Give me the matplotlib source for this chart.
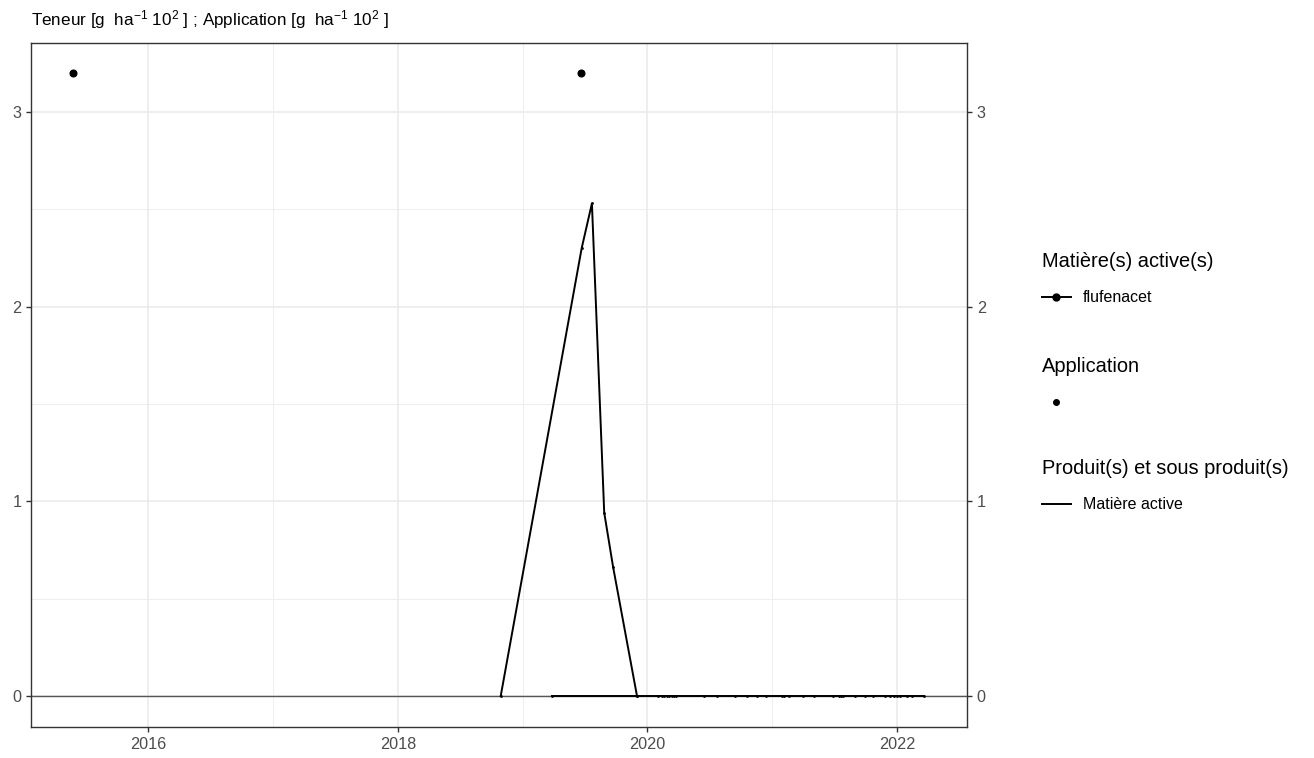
#!/usr/bin/env python3

# Import special modules ...
import datetime
import matplotlib
matplotlib.use("Agg")
import matplotlib.dates
import matplotlib.lines
import matplotlib.pyplot
import matplotlib.ticker

matplotlib.pyplot.rcParams["font.family"] = ["Liberation Sans", "DejaVu Sans"]
matplotlib.pyplot.rcParams["mathtext.fontset"] = "custom"
matplotlib.pyplot.rcParams["mathtext.rm"] = "Liberation Sans"
matplotlib.pyplot.rcParams["mathtext.it"] = "Liberation Sans:italic"

appDates = ["2015-05-26", "2019-06-21"]
appValues = [3.2, 3.2]

productDates = ["2018-10-29", "2019-06-23", "2019-07-23", "2019-08-28", "2019-09-23", "2019-12-02"]
productValues = [0.0, 2.30, 2.53, 0.942, 0.663, 0.0]

flufenacetDates = [
    "2019-03-27", "2019-12-02", "2020-02-02", "2020-02-14", "2020-02-20", "2020-02-27",
    "2020-03-04", "2020-03-12", "2020-03-20", "2020-03-26", "2020-06-16", "2020-07-22",
    "2020-09-14", "2020-10-18", "2020-11-16", "2020-12-15", "2021-01-30", "2021-02-05",
    "2021-02-18", "2021-04-01", "2021-05-04", "2021-06-29", "2021-07-14", "2021-07-22",
    "2021-07-28", "2021-08-31", "2021-09-30", "2021-10-24", "2021-11-28", "2021-12-12",
    "2021-12-24", "2022-01-02", "2022-01-10", "2022-01-30", "2022-02-14", "2022-03-21",
]
flufenacetValues = [0.0] * len(flufenacetDates)

yTicks = [0, 1, 2, 3]
xTickYears = [2016, 2018, 2020, 2022]

def toDates(strs):
    return [datetime.datetime.strptime(s, "%Y-%m-%d") for s in strs]

# Create figure ...
fg = matplotlib.pyplot.figure(figsize = (13.14, 7.58), dpi = 100)
ax = fg.add_axes([31 / 1314, 1 - 727 / 758, (967 - 31) / 1314, (727 - 43) / 758])

# Plot ...
ax.axhline(0, color = "#555555", linewidth = 1.0, zorder = 2)
ax.plot(toDates(productDates), productValues, color = "black", linewidth = 1.4, marker = "o", markersize = 1.0, zorder = 3)
ax.plot(toDates(flufenacetDates), flufenacetValues, color = "black", linewidth = 1.4, marker = "o", markersize = 1.0, zorder = 3)
ax.plot(toDates(appDates), appValues, linestyle = "none", color = "black", marker = "o", markersize = 4.8, zorder = 4)

# Configure axis ...
ax.set_xlim(datetime.datetime(2015, 1, 23), datetime.datetime(2022, 7, 25))
ax.set_ylim(-0.159, 3.354)
ax.xaxis.set_major_locator(matplotlib.ticker.FixedLocator([matplotlib.dates.date2num(datetime.datetime(y, 1, 1)) for y in xTickYears]))
ax.xaxis.set_minor_locator(matplotlib.ticker.FixedLocator([matplotlib.dates.date2num(datetime.datetime(y + 1, 1, 1)) for y in xTickYears]))
ax.xaxis.set_major_formatter(matplotlib.dates.DateFormatter("%Y"))
ax.set_yticks(yTicks)
ax.set_yticks([0.5, 1.5, 2.5], minor = True)
ax.grid(which = "major", color = "#ebebeb", linewidth = 1.2)
ax.grid(which = "minor", color = "#ebebeb", linewidth = 0.6)
ax.set_axisbelow(True)
ax.tick_params(which = "major", direction = "out", length = 3.5, width = 1.0, color = "#333333", labelcolor = "#4d4d4d", labelsize = 11.7)
ax.tick_params(which = "minor", length = 0)
ax.tick_params(axis = "y", which = "major", right = True, labelright = True)
for spine in ax.spines.values():
    spine.set_color("#333333")
    spine.set_linewidth(1.0)

fg.text(31 / 1314, 1 - 20 / 758, r"Teneur [g  ha$^{-1}$ 10$^{2}$ ] ; Application [g  ha$^{-1}$ 10$^{2}$ ]", fontsize = 12.3, va = "center", ha = "left")

# Legends ...
common = dict(frameon = False, loc = "upper left", fontsize = 11.5, title_fontsize = 14.4, alignment = "left", borderpad = 0, handlelength = 1.8, handletextpad = 0.75, labelspacing = 1.2)
h1 = matplotlib.lines.Line2D([], [], color = "black", linewidth = 1.4, marker = "o", markersize = 5)
l1 = fg.legend([h1], ["flufenacet"], title = "Matière(s) active(s)", bbox_to_anchor = (1034 / 1314, 1 - 244 / 758), **common)
h2 = matplotlib.lines.Line2D([], [], color = "black", linestyle = "none", marker = "o", markersize = 4)
l2 = fg.legend([h2], [" "], title = "Application", bbox_to_anchor = (1034 / 1314, 1 - 349 / 758), **common)
h3 = matplotlib.lines.Line2D([], [], color = "black", linewidth = 1.4)
l3 = fg.legend([h3], ["Matière active"], title = "Produit(s) et sous produit(s)", bbox_to_anchor = (1034 / 1314, 1 - 451 / 758), **common)

# Save figure ...
fg.savefig("out.png", dpi = 100)
matplotlib.pyplot.close(fg)
